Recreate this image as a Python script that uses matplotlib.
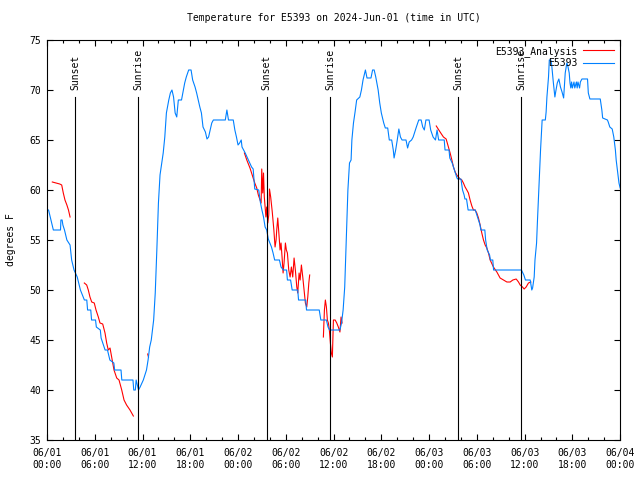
import matplotlib
matplotlib.use("Agg")
import matplotlib.pyplot as plt
import matplotlib.dates as mdates
import numpy as np
import pandas as pd

START = pd.Timestamp("2024-06-01 00:00")
FONT = "DejaVu Sans Mono"

# observations (hours after 06/01 00:00 UTC, deg F)
obs_hours = [
    0.0, 0.2, 0.5, 0.8, 1.7, 1.75, 1.9, 2.0, 2.2, 2.5, 2.9, 3.1, 3.4, 3.8, 4.2, 4.7, 5.0, 5.1,
    5.5, 5.6, 6.1, 6.2, 6.7, 6.8, 7.3, 7.6, 7.9, 8.4, 8.5, 9.3, 9.4, 10.8, 10.9, 11.1, 11.2,
    11.35, 11.5, 11.7, 12.1, 12.5, 12.7, 12.9, 13.1, 13.4, 13.6, 13.8, 14.0, 14.2, 14.6, 14.8,
    15.0, 15.3, 15.5, 15.7, 15.9, 16.1, 16.3, 16.5, 16.9, 17.3, 17.5, 17.8, 18.1, 18.3, 18.6,
    18.8, 19.0, 19.2, 19.4, 19.6, 19.9, 20.1, 20.3, 20.5, 20.7, 20.9, 22.4, 22.6, 22.8, 23.4,
    23.6, 23.8, 24.0, 24.2, 24.4, 24.5, 24.7, 24.9, 25.3, 25.7, 25.9, 26.1, 26.6, 26.8, 27.0,
    27.2, 27.4, 27.6, 27.8, 28.2, 28.4, 28.6, 29.2, 29.4, 29.7, 30.1, 30.2, 30.6, 30.8, 31.5,
    31.6, 32.5, 32.6, 34.2, 34.4, 35.1, 35.3, 35.5, 36.8, 37.0, 37.2, 37.4, 37.6, 37.8, 38.0,
    38.2, 38.3, 38.5, 38.7, 38.9, 39.3, 39.5, 39.7, 40.0, 40.2, 40.7, 40.9, 41.1, 41.3, 41.6,
    41.8, 42.0, 42.3, 42.5, 42.8, 43.0, 43.3, 43.5, 43.6, 43.8, 44.0, 44.2, 44.4, 44.6, 45.1,
    45.3, 45.5, 45.8, 46.0, 46.4, 46.7, 47.0, 47.2, 47.4, 47.6, 48.0, 48.2, 48.5, 48.8, 49.0,
    49.2, 49.9, 50.0, 50.5, 50.6, 50.9, 51.1, 51.3, 51.5, 51.6, 52.0, 52.2, 52.4, 52.5, 52.7,
    52.9, 53.8, 54.0, 54.2, 54.4, 54.5, 55.0, 55.1, 55.3, 55.6, 55.7, 56.0, 56.1, 59.6, 59.9,
    60.1, 60.7, 60.9, 61.0, 61.2, 61.3, 61.5, 61.6, 61.8, 61.9, 62.0, 62.2, 62.6, 62.7, 62.8,
    63.0, 63.1, 63.3, 63.4, 63.6, 63.8, 63.9, 64.1, 64.3, 64.5, 64.7, 64.9, 65.1, 65.3, 65.4,
    65.6, 65.7, 65.8, 65.9, 66.0, 66.2, 66.3, 66.5, 66.6, 66.7, 66.9, 67.0, 67.2, 67.9, 68.0,
    68.2, 69.5, 69.7, 69.8, 70.1, 70.4, 70.5, 70.7, 71.0, 71.2, 71.4, 71.5, 71.7, 71.85, 72.0,
]
obs_temp = [
    58, 58, 57, 56, 56, 57, 57, 56.5, 56, 55, 54.5, 53, 52, 51.3, 50, 49, 49, 48,
    48, 47, 47, 46.3, 46, 45.2, 44, 44, 43, 42.7, 42, 42, 41, 41, 40, 40, 41,
    40.5, 40, 40.3, 41, 42, 43, 44.3, 45, 47, 49.7, 54, 58.7, 61.5, 63.7, 65.3,
    67.7, 69, 69.7, 70, 69.3, 67.7, 67.3, 69, 69, 70.7, 71.3, 72, 72, 71, 70.3,
    69.7, 69, 68.3, 67.7, 66.3, 65.8, 65.1, 65.3, 66, 66.7, 67, 67, 68, 67, 67,
    66, 65.3, 64.5, 64.7, 65, 64.3, 64, 63.7, 63, 62.3, 62.1, 60.1, 60, 58.8, 58,
    57.3, 56.3, 56, 55.1, 54.3, 53.7, 53, 53, 52.3, 52, 52, 51, 51, 50, 50,
    49, 49, 48, 48, 47, 47, 46.3, 46, 46, 46.7, 48, 50.3, 55.3, 60, 62.7,
    63, 65, 66.7, 67.8, 69, 69.3, 70, 71, 72, 71.2, 71.2, 72, 72, 71.3, 70,
    68.7, 67.7, 66.7, 66.2, 66.2, 65, 65, 64, 63.2, 64, 65, 66.1, 65.3, 65, 65,
    64.2, 64.8, 65, 65.3, 66.3, 67, 67, 66.3, 66, 67, 67, 66, 65.3, 65, 66,
    65, 65, 64, 64, 63.2, 62.7, 62.2, 61.7, 61.2, 61.1, 61.1, 60, 59.5, 59.1, 59.1,
    58, 58, 57.5, 57, 56.5, 56, 56, 55, 54, 53.5, 53, 53, 52, 52, 51.5,
    51, 51, 50, 50.2, 51.3, 53, 54.7, 56.7, 60.3, 62, 64, 67, 67, 67.8, 69.3,
    71.3, 73, 73, 72.5, 70.8, 69.3, 69.8, 70.7, 71.1, 70.3, 69.8, 69.2, 71.7, 72.7, 72.5,
    71.7, 70.7, 70.2, 70.8, 70.2, 70.8, 70.2, 70.8, 70.2, 70.8, 70.2, 70.8, 71.1, 71.1, 69.7,
    69.1, 69.1, 68, 67.2, 67.1, 67, 66.8, 66.3, 66.1, 65.3, 64, 63, 61.7, 60.7, 60.2,
]

# analysis (NaN marks the gaps between runs)
nan = np.nan
ana_hours = [
    0.67, 1.6, 1.85, 2.05, 2.26, 2.5, 2.7, 2.9, 2.95,
    4.69, 4.99, 5.19, 5.4, 5.62, 5.94, 6.16, 6.45, 6.66, 7.0, 7.29, 7.5, 7.7, 7.92, 8.13,
    8.42, 8.76, 9.05, 9.39, 9.68, 10.0, 10.43, 10.85, 10.9,
    12.65, 12.75, 12.8,
    24.8, 25.1, 25.5, 25.9, 26.1, 26.35, 26.55, 26.77, 26.9, 26.98, 27.1, 27.2, 27.3, 27.5,
    27.6, 27.74, 27.86, 27.95, 28.1, 28.3, 28.5, 28.65, 28.78, 28.86, 28.99, 29.1, 29.28,
    29.4, 29.53, 29.66, 29.78, 29.95, 30.07, 30.2, 30.37, 30.54, 30.7, 30.87, 31.04, 31.2,
    31.38, 31.5, 31.67, 31.8, 31.96, 32.13, 32.3, 32.46, 32.63, 32.76, 32.89, 33.0, 33.05,
    34.72, 34.85, 34.97, 35.1, 35.22, 35.35, 35.47, 35.6, 35.72, 35.85, 35.98, 36.2, 36.4,
    36.6, 36.8, 36.94, 37.07, 37.1,
    48.9, 49.38, 49.8, 50.14, 50.43, 50.64, 50.86, 51.06, 51.27, 51.48, 51.68, 51.9, 52.11,
    52.31, 52.52, 52.74, 52.94, 53.15, 53.37, 53.57, 53.78, 53.99, 54.2, 54.41, 54.62,
    54.83, 55.04, 55.25, 55.46, 55.67, 56.08, 56.51, 56.92, 57.34, 57.77, 58.18, 58.52,
    58.94, 59.23, 59.44, 59.73, 59.94, 60.19, 60.48, 60.78,
]
ana_temp = [
    60.8, 60.6, 60.5, 59.7, 59.0, 58.5, 58.0, 57.3, nan,
    50.7, 50.5, 50.0, 49.3, 48.8, 48.7, 48.0, 47.3, 46.7, 46.6, 45.7, 44.7, 44.0, 44.2, 43.3,
    42.0, 41.2, 41.0, 40.0, 39.0, 38.5, 38.0, 37.4, nan,
    43.6, 43.3, nan,
    63.7, 63.0, 62.2, 61.2, 60.7, 60.2, 59.5, 59.0, 58.7, 62.1, 59.7, 61.7, 59.3, 57.3,
    58.3, 56.7, 57.5, 60.1, 59.3, 57.8, 56.0, 54.3, 55.0, 56.0, 57.2, 56.0, 54.0,
    54.7, 53.3, 51.7, 52.7, 54.7, 54.0, 53.7, 52.0, 51.3, 52.3, 51.3, 53.2, 52.0,
    50.3, 49.7, 51.7, 51.0, 52.5, 51.3, 50.0, 48.7, 48.3, 49.3, 50.7, 51.5, nan,
    45.3, 48.0, 49.0, 48.3, 47.0, 46.7, 46.0, 44.7, 43.7, 43.3, 47.0, 47.0, 46.7,
    46.3, 45.8, 47.3, 46.7, nan,
    66.4, 65.8, 65.3, 65.1, 64.3, 63.7, 63.0, 62.3, 61.8, 61.5, 61.3, 61.1, 61.0,
    60.7, 60.3, 60.0, 59.7, 59.0, 58.4, 58.0, 58.0, 57.7, 57.2, 56.5, 55.7,
    55.0, 54.5, 54.2, 53.7, 53.0, 52.3, 51.8, 51.2, 51.0, 50.8, 50.8, 51.0,
    51.1, 50.8, 50.5, 50.3, 50.1, 50.3, 50.7, 50.8,
]

sun_labels = ["Sunset", "Sunrise", "Sunset", "Sunrise", "Sunset", "Sunrise"]
sun_hours = [3.52, 11.48, 27.6, 35.56, 51.69, 59.6]


def to_time(hours):
    return START + pd.to_timedelta(np.asarray(hours, dtype=float), unit="h")


def main() -> None:
    plt.rcParams["font.family"] = FONT
    plt.rcParams["font.size"] = 7

    fig = plt.figure(figsize=(6.4, 4.8), dpi=100)
    ax = fig.add_axes([0.0734, 0.0833, 0.8956, 0.8334])

    ax.plot(to_time(ana_hours), ana_temp, color="#ff0000", lw=0.8, label="E5393_Analysis")
    ax.plot(to_time(obs_hours), obs_temp, color="#0080ff", lw=0.8, label="E5393")

    for name, h in zip(sun_labels, sun_hours):
        t = to_time([h])[0]
        ax.plot([t, t], [35, 69.3], color="black", lw=0.8)
        ax.text(t, 70, name, rotation=90, ha="center", va="bottom", fontsize=7)

    ax.set_xlim(START, START + pd.Timedelta(hours=72))
    ax.set_ylim(35, 75)
    ax.set_yticks(np.arange(35, 76, 5))
    ax.xaxis.set_major_locator(mdates.HourLocator(byhour=[0, 6, 12, 18]))
    ax.xaxis.set_minor_locator(mdates.HourLocator(interval=2))
    ax.xaxis.set_major_formatter(mdates.DateFormatter("%m/%d\n%H:%M"))
    ax.tick_params(which="both", direction="in", top=True, right=True, width=0.8)
    ax.tick_params(which="major", length=4.5, pad=6)
    ax.tick_params(which="minor", length=2.5)
    ax.tick_params(axis="y", pad=4)
    for spine in ax.spines.values():
        spine.set_linewidth(0.8)

    ax.set_ylabel("degrees F", labelpad=10)
    ax.set_title("Temperature for E5393 on 2024-Jun-01 (time in UTC)", pad=14, fontsize=7)

    ax.legend(loc="upper right", frameon=False, markerfirst=False, handlelength=3.2,
              borderaxespad=0.2, labelspacing=0.15, handletextpad=0.6, fontsize=7)

    fig.savefig("out.png", dpi=100)
    plt.close(fig)


if __name__ == "__main__":
    main()
